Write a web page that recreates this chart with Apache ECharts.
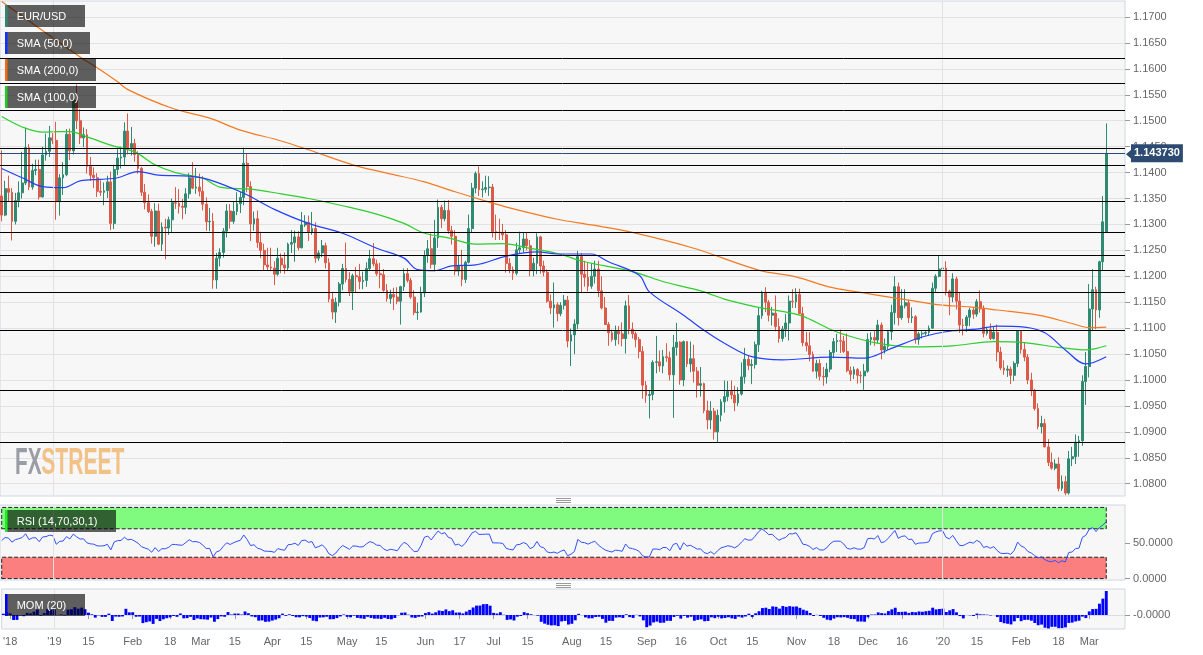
<!DOCTYPE html>
<html><head><meta charset="utf-8">
<script src="https://cdn.jsdelivr.net/npm/echarts@6/dist/echarts.min.js"></script>
<style>html,body{margin:0;padding:0;background:#fff}#c{width:1203px;height:655px}</style>
</head><body><div id="c"></div>
<script>
// ---------------- data ----------------
const firstDay = '2018-12-11';
const lastCategoryDay = '2020-03-16';   // a few empty weekdays after the last candle
const lastPrice = 1.14373;

// closes before the visible window (indicator warm-up)
const priorCloses = [1.1224,1.1290,1.1312,1.1328,1.1417,1.1454,1.1370,1.1407,1.1402,1.1337,1.1331,1.1288,1.1368,1.1393,1.1315,1.1352,1.1343,1.1342,1.1377,1.1406,1.1355];

// daily candles: [open, high, low, close]
const ohlc = [
[1.1355,1.1443,1.1306,1.1318],[1.1318,1.1384,1.1316,1.1369],[1.1369,1.1394,1.1345,1.1362],[1.1362,1.1370,1.1269,1.1306],[1.1306,1.1361,1.1300,1.1346],
[1.1346,1.1383,1.1333,1.1361],[1.1361,1.1440,1.1350,1.1380],[1.1380,1.1486,1.1376,1.1448],[1.1448,1.1455,1.1366,1.1372],[1.1372,1.1417,1.1367,1.1404],
[1.1404,1.1425,1.1395,1.1406],[1.1406,1.1425,1.1348,1.1353],[1.1353,1.1450,1.1352,1.1434],[1.1434,1.1475,1.1423,1.1441],[1.1441,1.1490,1.1430,1.1467],
[1.1467,1.1476,1.1455,1.1462],[1.1462,1.1498,1.1309,1.1344],[1.1344,1.1397,1.1317,1.1390],[1.1390,1.1420,1.1357,1.1396],[1.1396,1.1484,1.1393,1.1474],
[1.1474,1.1485,1.1424,1.1442],[1.1442,1.1542,1.1435,1.1540],[1.1540,1.1570,1.1484,1.1500],[1.1500,1.1522,1.1455,1.1467],[1.1467,1.1487,1.1449,1.1473],
[1.1473,1.1484,1.1398,1.1412],[1.1412,1.1430,1.1384,1.1395],[1.1395,1.1410,1.1370,1.1390],[1.1390,1.1399,1.1353,1.1364],[1.1364,1.1385,1.1355,1.1362],
[1.1362,1.1381,1.1337,1.1365],[1.1365,1.1394,1.1351,1.1382],[1.1382,1.1402,1.1289,1.1302],[1.1302,1.1415,1.1291,1.1406],[1.1406,1.1445,1.1395,1.1428],
[1.1428,1.1450,1.1408,1.1430],[1.1430,1.1497,1.1414,1.1480],[1.1480,1.1514,1.1435,1.1448],[1.1448,1.1488,1.1433,1.1456],[1.1456,1.1465,1.1421,1.1435],
[1.1435,1.1441,1.1398,1.1408],[1.1408,1.1411,1.1355,1.1362],[1.1362,1.1378,1.1329,1.1342],[1.1342,1.1358,1.1322,1.1325],[1.1325,1.1330,1.1263,1.1277],
[1.1277,1.1341,1.1257,1.1326],[1.1326,1.1340,1.1260,1.1262],[1.1262,1.1304,1.1249,1.1295],[1.1295,1.1311,1.1233,1.1293],[1.1293,1.1315,1.1280,1.1309],
[1.1309,1.1350,1.1285,1.1342],[1.1342,1.1372,1.1330,1.1341],[1.1341,1.1368,1.1321,1.1335],[1.1335,1.1349,1.1310,1.1333],[1.1333,1.1370,1.1320,1.1359],
[1.1359,1.1399,1.1350,1.1390],[1.1390,1.1420,1.1368,1.1370],[1.1370,1.1409,1.1359,1.1372],[1.1372,1.1398,1.1354,1.1364],[1.1364,1.1393,1.1327,1.1339],
[1.1339,1.1352,1.1288,1.1305],[1.1305,1.1332,1.1287,1.1306],[1.1306,1.1322,1.1176,1.1193],[1.1193,1.1245,1.1176,1.1235],[1.1235,1.1254,1.1219,1.1246],
[1.1246,1.1293,1.1236,1.1287],[1.1287,1.1339,1.1275,1.1326],[1.1326,1.1339,1.1292,1.1306],[1.1306,1.1345,1.1301,1.1325],[1.1325,1.1362,1.1318,1.1340],
[1.1340,1.1363,1.1322,1.1352],[1.1352,1.1448,1.1337,1.1418],[1.1418,1.1437,1.1362,1.1373],[1.1373,1.1383,1.1268,1.1301],[1.1301,1.1325,1.1288,1.1311],
[1.1311,1.1327,1.1255,1.1265],[1.1265,1.1286,1.1235,1.1250],[1.1250,1.1263,1.1211,1.1222],[1.1222,1.1255,1.1212,1.1218],[1.1218,1.1255,1.1210,1.1216],
[1.1216,1.1229,1.1183,1.1204],[1.1204,1.1255,1.1201,1.1235],[1.1235,1.1244,1.1206,1.1222],[1.1222,1.1246,1.1205,1.1216],[1.1216,1.1265,1.1210,1.1262],
[1.1262,1.1289,1.1245,1.1265],[1.1265,1.1288,1.1228,1.1276],[1.1276,1.1287,1.1250,1.1255],[1.1255,1.1324,1.1254,1.1299],[1.1299,1.1318,1.1295,1.1304],
[1.1304,1.1317,1.1268,1.1285],[1.1285,1.1324,1.1280,1.1292],[1.1292,1.1304,1.1226,1.1235],[1.1235,1.1250,1.1230,1.1245],[1.1245,1.1270,1.1237,1.1259],
[1.1259,1.1265,1.1215,1.1226],[1.1226,1.1235,1.1150,1.1156],[1.1156,1.1170,1.1117,1.1131],[1.1131,1.1159,1.1110,1.1150],[1.1150,1.1189,1.1142,1.1185],
[1.1185,1.1224,1.1173,1.1215],[1.1215,1.1265,1.1188,1.1194],[1.1194,1.1208,1.1162,1.1171],[1.1171,1.1205,1.1135,1.1201],[1.1201,1.1218,1.1168,1.1199],
[1.1199,1.1224,1.1175,1.1190],[1.1190,1.1209,1.1175,1.1192],[1.1192,1.1227,1.1180,1.1215],[1.1215,1.1251,1.1212,1.1234],[1.1234,1.1264,1.1219,1.1224],
[1.1224,1.1232,1.1201,1.1205],[1.1205,1.1226,1.1177,1.1203],[1.1203,1.1214,1.1170,1.1173],[1.1173,1.1185,1.1151,1.1157],[1.1157,1.1174,1.1147,1.1165],
[1.1165,1.1178,1.1135,1.1160],[1.1160,1.1179,1.1146,1.1152],[1.1152,1.1182,1.1107,1.1180],[1.1180,1.1215,1.1172,1.1205],[1.1205,1.1216,1.1188,1.1192],
[1.1192,1.1197,1.1156,1.1160],[1.1160,1.1173,1.1125,1.1130],[1.1130,1.1149,1.1116,1.1131],[1.1131,1.1180,1.1130,1.1168],[1.1168,1.1250,1.1160,1.1240],
[1.1240,1.1270,1.1226,1.1253],[1.1253,1.1283,1.1215,1.1223],[1.1223,1.1309,1.1210,1.1274],[1.1274,1.1348,1.1255,1.1333],[1.1333,1.1338,1.1293,1.1311],
[1.1311,1.1346,1.1306,1.1327],[1.1327,1.1347,1.1282,1.1288],[1.1288,1.1297,1.1261,1.1277],[1.1277,1.1289,1.1202,1.1210],[1.1210,1.1240,1.1201,1.1220],
[1.1220,1.1251,1.1181,1.1194],[1.1194,1.1230,1.1187,1.1227],[1.1227,1.1319,1.1225,1.1292],[1.1292,1.1380,1.1284,1.1370],[1.1370,1.1402,1.1360,1.1398],
[1.1398,1.1412,1.1355,1.1367],[1.1367,1.1383,1.1352,1.1368],[1.1368,1.1394,1.1361,1.1371],[1.1371,1.1393,1.1355,1.1372],[1.1372,1.1378,1.1275,1.1286],
[1.1286,1.1319,1.1270,1.1285],[1.1285,1.1311,1.1270,1.1284],[1.1284,1.1301,1.1270,1.1280],[1.1280,1.1289,1.1207,1.1225],[1.1225,1.1235,1.1206,1.1213],
[1.1213,1.1219,1.1193,1.1206],[1.1206,1.1265,1.1202,1.1251],[1.1251,1.1286,1.1245,1.1255],[1.1255,1.1284,1.1246,1.1272],[1.1272,1.1285,1.1250,1.1259],
[1.1259,1.1270,1.1200,1.1211],[1.1211,1.1236,1.1200,1.1225],[1.1225,1.1283,1.1204,1.1276],[1.1276,1.1278,1.1205,1.1220],[1.1220,1.1230,1.1200,1.1208],
[1.1208,1.1213,1.1149,1.1152],[1.1152,1.1165,1.1127,1.1139],[1.1139,1.1188,1.1101,1.1145],[1.1145,1.1150,1.1113,1.1128],[1.1128,1.1150,1.1123,1.1144],
[1.1144,1.1164,1.1136,1.1154],[1.1154,1.1162,1.1063,1.1075],[1.1075,1.1099,1.1027,1.1087],[1.1087,1.1117,1.1050,1.1108],[1.1108,1.1249,1.1098,1.1238],
[1.1238,1.1245,1.1169,1.1204],[1.1204,1.1230,1.1180,1.1198],[1.1198,1.1227,1.1171,1.1181],[1.1181,1.1225,1.1176,1.1200],[1.1200,1.1230,1.1186,1.1214],
[1.1214,1.1230,1.1160,1.1172],[1.1172,1.1200,1.1136,1.1139],[1.1139,1.1160,1.1106,1.1107],[1.1107,1.1112,1.1066,1.1091],[1.1091,1.1097,1.1074,1.1078],
[1.1078,1.1105,1.1066,1.1094],[1.1094,1.1104,1.1069,1.1089],[1.1089,1.1111,1.1065,1.1080],[1.1080,1.1153,1.1051,1.1143],[1.1143,1.1164,1.1088,1.1098],
[1.1098,1.1111,1.1080,1.1089],[1.1089,1.1093,1.1063,1.1078],[1.1078,1.1083,1.1042,1.1055],[1.1055,1.1065,1.0964,1.0990],[1.0990,1.0998,1.0956,1.0970],
[1.0970,1.0980,1.0926,1.0972],[1.0972,1.1038,1.0961,1.1034],[1.1034,1.1085,1.1013,1.1035],[1.1035,1.1057,1.1016,1.1027],[1.1027,1.1058,1.1013,1.1045],
[1.1045,1.1071,1.1035,1.1043],[1.1043,1.1055,1.0999,1.1010],[1.1010,1.1087,1.0927,1.1063],[1.1063,1.1110,1.1047,1.1073],[1.1073,1.1075,1.0991,1.1000],
[1.1000,1.1076,1.0988,1.1074],[1.1074,1.1075,1.1025,1.1031],[1.1031,1.1074,1.1015,1.1041],[1.1041,1.1068,1.0995,1.1017],[1.1017,1.1025,1.0966,1.0990],
[1.0990,1.1025,1.0968,1.0993],[1.0993,1.0995,1.0936,1.0941],[1.0941,1.0960,1.0905,1.0923],[1.0923,1.0959,1.0905,1.0940],[1.0940,1.0946,1.0885,1.0900],
[1.0900,1.0943,1.0879,1.0932],[1.0932,1.0963,1.0920,1.0958],[1.0958,1.0999,1.0937,1.0968],[1.0968,1.0998,1.0959,1.0978],[1.0978,1.0999,1.0963,1.0971],
[1.0971,1.0989,1.0940,1.0956],[1.0956,1.0986,1.0950,1.0973],[1.0973,1.1034,1.0970,1.1006],[1.1006,1.1062,1.0993,1.1040],[1.1040,1.1047,1.1019,1.1028],
[1.1028,1.1040,1.0992,1.1030],[1.1030,1.1074,1.1022,1.1068],[1.1068,1.1140,1.1054,1.1124],[1.1124,1.1172,1.1118,1.1169],[1.1169,1.1179,1.1131,1.1150],
[1.1150,1.1154,1.1113,1.1125],[1.1125,1.1141,1.1105,1.1129],[1.1129,1.1163,1.1094,1.1103],[1.1103,1.1119,1.1072,1.1080],[1.1080,1.1104,1.1074,1.1098],
[1.1098,1.1127,1.1083,1.1110],[1.1110,1.1163,1.1076,1.1152],[1.1152,1.1175,1.1139,1.1151],[1.1151,1.1177,1.1139,1.1165],[1.1165,1.1176,1.1127,1.1128],
[1.1128,1.1141,1.1065,1.1072],[1.1072,1.1093,1.1055,1.1066],[1.1066,1.1092,1.1036,1.1049],[1.1049,1.1055,1.1016,1.1017],[1.1017,1.1039,1.1003,1.1032],
[1.1032,1.1040,1.0999,1.1007],[1.1007,1.1025,1.0989,1.1006],[1.1006,1.1033,1.0993,1.1021],[1.1021,1.1058,1.1015,1.1053],[1.1053,1.1081,1.1042,1.1074],
[1.1074,1.1089,1.1054,1.1076],[1.1076,1.1097,1.1052,1.1075],[1.1075,1.1085,1.1052,1.1055],[1.1055,1.1090,1.1015,1.1018],[1.1018,1.1026,1.0998,1.1011],
[1.1011,1.1026,1.1002,1.1020],[1.1020,1.1023,1.0993,1.1009],[1.1009,1.1017,1.0994,1.1008],[1.1008,1.1031,1.0981,1.1017],[1.1017,1.1090,1.1014,1.1078],
[1.1078,1.1092,1.1067,1.1082],[1.1082,1.1094,1.1066,1.1077],[1.1077,1.1116,1.1071,1.1106],[1.1106,1.1111,1.1040,1.1058],[1.1058,1.1080,1.1051,1.1065],
[1.1065,1.1096,1.1058,1.1093],[1.1093,1.1145,1.1077,1.1130],[1.1130,1.1200,1.1107,1.1180],[1.1180,1.1188,1.1105,1.1120],[1.1120,1.1175,1.1116,1.1143],
[1.1143,1.1175,1.1138,1.1149],[1.1149,1.1155,1.1110,1.1120],[1.1120,1.1140,1.1110,1.1122],[1.1122,1.1125,1.1070,1.1078],[1.1078,1.1093,1.1068,1.1089],
[1.1089,1.1094,1.1080,1.1090],[1.1090,1.1094,1.1086,1.1092],[1.1092,1.1105,1.1085,1.1100],[1.1100,1.1188,1.1099,1.1177],[1.1177,1.1204,1.1170,1.1200],
[1.1200,1.1239,1.1198,1.1214],[1.1214,1.1222,1.1208,1.1216],[1.1216,1.1229,1.1163,1.1171],[1.1171,1.1174,1.1125,1.1160],[1.1160,1.1206,1.1150,1.1195],
[1.1195,1.1199,1.1136,1.1152],[1.1152,1.1168,1.1091,1.1106],[1.1106,1.1118,1.1086,1.1105],[1.1105,1.1125,1.1093,1.1121],[1.1121,1.1139,1.1104,1.1135],
[1.1135,1.1139,1.1118,1.1127],[1.1127,1.1156,1.1122,1.1151],[1.1151,1.1173,1.1130,1.1137],[1.1137,1.1144,1.1082,1.1090],[1.1090,1.1101,1.1086,1.1097],
[1.1097,1.1109,1.1077,1.1080],[1.1080,1.1102,1.1078,1.1092],[1.1092,1.1107,1.1036,1.1054],[1.1054,1.1064,1.1019,1.1023],[1.1023,1.1038,1.1010,1.1019],
[1.1019,1.1028,1.1006,1.1021],[1.1021,1.1026,1.0992,1.1009],[1.1009,1.1036,1.0998,1.1032],[1.1032,1.1096,1.1025,1.1094],[1.1094,1.1096,1.1051,1.1059],
[1.1059,1.1073,1.1036,1.1044],[1.1044,1.1050,1.0992,1.1000],[1.1000,1.1014,1.0969,1.0980],[1.0980,1.0983,1.0941,1.0945],[1.0945,1.0955,1.0905,1.0910],
[1.0910,1.0931,1.0897,1.0916],[1.0916,1.0925,1.0870,1.0871],[1.0871,1.0886,1.0834,1.0841],[1.0841,1.0860,1.0827,1.0830],[1.0830,1.0847,1.0826,1.0838],
[1.0838,1.0851,1.0785,1.0791],[1.0791,1.0816,1.0786,1.0804],[1.0804,1.0815,1.0778,1.0782],[1.0782,1.0863,1.0779,1.0848],[1.0848,1.0871,1.0834,1.0852],
[1.0852,1.0895,1.0838,1.0880],[1.0880,1.0892,1.0852,1.0883],[1.0883,1.1009,1.0873,1.0997],[1.0997,1.1054,1.0952,1.1026],[1.1026,1.1185,1.1005,1.1137],
[1.1137,1.1214,1.1096,1.1174],[1.1174,1.1180,1.1098,1.1135],[1.1135,1.1230,1.1120,1.1228],[1.1228,1.1355,1.1212,1.1305],[1.1285,1.1495,1.1285,1.1437]
];

// horizontal support / resistance levels
const levels = [1.1620,1.1573,1.1520,1.1447,1.1414,1.1345,1.1285,1.1241,1.1212,1.1170,1.1095,1.0981,1.0879];

// moving averages: candle index -> value
const sma50Idx = [0,6,12,18,23,29,34,40,46,55,61,71,80,90,100,110,118,122,127,132,139,148,157,163,173,178,187,190,200,206,212,220,229,243,253,261,270,279,286,292,300,306,312,318,324];
const sma50Val = [1.1408,1.1390,1.1373,1.1371,1.1384,1.1387,1.1390,1.1402,1.1395,1.1393,1.1386,1.1360,1.1329,1.1302,1.1283,1.1254,1.1235,1.1213,1.1211,1.1220,1.1222,1.1239,1.1247,1.1243,1.1243,1.1228,1.1202,1.1170,1.1125,1.1096,1.1071,1.1045,1.1039,1.1044,1.1042,1.1061,1.1083,1.1095,1.1098,1.1104,1.1102,1.1091,1.1058,1.1031,1.1045];
const sma100Idx = [0,6,12,17,20,25,32,39,45,51,59,64,73,82,90,100,110,118,124,131,139,147,155,163,171,185,195,205,213,222,234,243,247,256,266,279,291,300,310,318,324];
const sma100Val = [1.1508,1.1488,1.1478,1.1479,1.1479,1.1469,1.1453,1.1440,1.1415,1.1400,1.1389,1.1372,1.1368,1.1359,1.1350,1.1336,1.1320,1.1302,1.1283,1.1274,1.1262,1.1263,1.1254,1.1244,1.1228,1.1209,1.1188,1.1172,1.1154,1.1140,1.1125,1.1098,1.1088,1.1072,1.1064,1.1066,1.1074,1.1072,1.1063,1.1058,1.1066];
const sma200Idx = [0,23,28,34,37,50,61,70,82,90,103,113,124,133,143,149,163,173,184,203,222,233,243,251,266,275,284,292,304,314,319,324];
const sma200Val = [1.1730,1.1623,1.1602,1.1575,1.1560,1.1524,1.1505,1.1482,1.1461,1.1444,1.1415,1.1399,1.1382,1.1363,1.1343,1.1332,1.1310,1.1299,1.1286,1.1254,1.1212,1.1199,1.1179,1.1170,1.1154,1.1145,1.1141,1.1135,1.1125,1.1109,1.1101,1.1102];

// axis ticks
const yTicks = [1.08,1.085,1.09,1.095,1.10,1.105,1.11,1.115,1.12,1.125,1.13,1.135,1.14,1.145,1.15,1.155,1.16,1.165,1.17];
const rsiTicks = [0,50];
const momTicks = [0];
const xTickDates = ['2018-12-13','2019-01-01','2019-01-15','2019-02-01','2019-02-18','2019-03-01','2019-03-15','2019-04-01','2019-04-15','2019-05-01','2019-05-15','2019-06-03','2019-06-17','2019-07-01','2019-07-15','2019-08-01','2019-08-15','2019-09-02','2019-09-16','2019-10-01','2019-10-15','2019-11-01','2019-11-18','2019-12-02','2019-12-16','2020-01-01','2020-01-15','2020-02-03','2020-02-18','2020-03-02'];
const xTickTexts = ["'18","'19",'15','Feb','18','Mar','15','Apr','15','May','15','Jun','17','Jul','15','Aug','15','Sep','16','Oct','15','Nov','18','Dec','16',"'20",'15','Feb','18','Mar'];
const yearLines = ['2019-01-01','2020-01-01'];

// ---------------- build ----------------
function weekdays(a, b) {
  const out = []; let d = new Date(a + 'T00:00:00Z'); const e = new Date(b + 'T00:00:00Z');
  while (d <= e) { const w = d.getUTCDay(); if (w !== 0 && w !== 6) out.push(d.toISOString().slice(0, 10)); d = new Date(d.getTime() + 86400000); }
  return out;
}
const cats = weekdays(firstDay, lastCategoryDay);
const labelMap = {}; xTickDates.forEach((d, i) => labelMap[d] = xTickTexts[i]);

const closes = priorCloses.concat(ohlc.map(r => r[3]));
function rsiCalc(cl, n) {
  const out = new Array(cl.length).fill(null); let g = 0, l = 0;
  for (let i = 1; i <= n; i++) { const d = cl[i] - cl[i - 1]; if (d > 0) g += d; else l -= d; }
  g /= n; l /= n; out[n] = 100 - 100 / (1 + g / l);
  for (let i = n + 1; i < cl.length; i++) { const d = cl[i] - cl[i - 1]; g = (g * (n - 1) + Math.max(d, 0)) / n; l = (l * (n - 1) + Math.max(-d, 0)) / n; out[i] = l === 0 ? 100 : 100 - 100 / (1 + g / l); }
  return out;
}
const P = priorCloses.length;
const rsiVals = rsiCalc(closes, 14).slice(P);
const momVals = ohlc.map((r, i) => +(closes[P + i] - closes[P + i - 20]).toFixed(5));
const candleData = ohlc.map(r => [r[0], r[3], r[2], r[1]]);
const pairs = (ix, v) => ix.map((x, k) => [x, v[k]]);

const FONT = '"Liberation Sans", Arial, Helvetica, sans-serif';
const isTick = (idx, val) => Object.prototype.hasOwnProperty.call(labelMap, val);
const gridCommon = { left: -1.6, right: 78, show: true, backgroundColor: '#f7f7f7', borderColor: '#cfd6e4', borderWidth: 1 };

function tag(x, y, w, h, bar, text) {
  return [
    { type: 'rect', shape: { x: x, y: y, width: w, height: h }, style: { fill: 'rgba(0,0,0,0.62)' }, z: 100 },
    { type: 'rect', shape: { x: x, y: y, width: 2.5, height: h }, style: { fill: bar }, z: 101 },
    { type: 'text', x: x + 11.7, y: y + h / 2 + 0.5, style: { text: text, fill: '#fff', font: '11px ' + FONT, verticalAlign: 'middle' }, z: 101 }
  ];
}
function handle(cy) {
  return [
    { type: 'line', shape: { x1: 556, y1: cy - 1.5, x2: 571, y2: cy - 1.5 }, style: { stroke: '#9a9a9a', lineWidth: 1 }, z: 100 },
    { type: 'line', shape: { x1: 556, y1: cy + 0.5, x2: 571, y2: cy + 0.5 }, style: { stroke: '#9a9a9a', lineWidth: 1 }, z: 100 },
    { type: 'line', shape: { x1: 556, y1: cy + 2.5, x2: 571, y2: cy + 2.5 }, style: { stroke: '#9a9a9a', lineWidth: 1 }, z: 100 }
  ];
}

const chart = echarts.init(document.getElementById('c'), null, { renderer: 'canvas' });
chart.setOption({
  animation: false,
  backgroundColor: '#ffffff',
  grid: [
    Object.assign({ top: 1, height: 495 }, gridCommon),
    Object.assign({ top: 505, height: 75 }, gridCommon),
    Object.assign({ top: 589, height: 40 }, gridCommon)
  ],
  xAxis: [
    { type: 'category', gridIndex: 0, data: cats, show: false },
    { type: 'category', gridIndex: 1, data: cats, show: false },
    { type: 'category', gridIndex: 2, data: cats,
      axisLine: { show: false },
      axisTick: { show: true, alignWithLabel: true, interval: isTick, length: 4, lineStyle: { color: '#9a9a9a' } },
      axisLabel: { interval: isTick, formatter: v => labelMap[v] || '', color: '#666', fontSize: 11, fontFamily: FONT, margin: 7 },
      splitLine: { show: false } }
  ],
  yAxis: [
    { type: 'value', gridIndex: 0, position: 'right', min: 1.07763, max: 1.17309,
      axisLine: { show: false },
      axisTick: { show: true, length: 5, lineStyle: { color: '#9a9a9a' }, customValues: yTicks },
      axisLabel: { customValues: yTicks, formatter: v => v.toFixed(4), color: '#666', fontSize: 11, fontFamily: FONT, margin: 8 },
      splitLine: { show: true, lineStyle: { color: '#e2e2e2', width: 1 } } },
    { type: 'value', gridIndex: 1, position: 'right', min: -2, max: 103.4,
      axisLine: { show: false },
      axisTick: { show: true, length: 5, lineStyle: { color: '#9a9a9a' }, customValues: rsiTicks },
      axisLabel: { customValues: rsiTicks, formatter: v => v.toFixed(4), color: '#666', fontSize: 11, fontFamily: FONT, margin: 8 },
      splitLine: { show: false } },
    { type: 'value', gridIndex: 2, position: 'right', min: -0.0308, max: 0.0571,
      axisLine: { show: false },
      axisTick: { show: true, length: 5, lineStyle: { color: '#9a9a9a' }, customValues: momTicks },
      axisLabel: { customValues: momTicks, formatter: () => '-0.0000', color: '#666', fontSize: 11, fontFamily: FONT, margin: 8 },
      splitLine: { show: true, lineStyle: { color: '#dcdcdc', width: 1 } } }
  ],
  series: [
    { name: 'years', type: 'line', xAxisIndex: 0, yAxisIndex: 0, data: [], silent: true,
      markLine: { silent: true, symbol: ['none', 'none'], label: { show: false },
        lineStyle: { color: '#e2e2e2', type: 'solid', width: 1 },
        data: yearLines.map(d => ({ xAxis: d })) } },
    { name: 'EUR/USD', type: 'candlestick', xAxisIndex: 0, yAxisIndex: 0, data: candleData, barWidth: '68%',
      itemStyle: { color: '#2f8a72', color0: '#dc5a48', borderColor: '#2f8a72', borderColor0: '#dc5a48', borderWidth: 1 },
      markLine: { silent: true, symbol: ['none', 'none'], animation: false, precision: 6,
        data: levels.map(v => ({ yAxis: v, lineStyle: { color: '#000', width: 1, type: 'solid' }, label: { show: false } }))
          .concat([{ yAxis: lastPrice, lineStyle: { color: '#2c4a72', width: 1, type: 'solid' },
            label: { show: true, position: 'end', distance: 6, formatter: () => lastPrice.toFixed(6),
              backgroundColor: '#2c4a72', color: '#fff', fontWeight: 'bold', fontSize: 11, fontFamily: FONT, padding: [4, 3, 3, 3] } }]) } },
    { name: 'SMA200', type: 'line', xAxisIndex: 0, yAxisIndex: 0, data: pairs(sma200Idx, sma200Val), smooth: 0.35, showSymbol: false, z: 3,
      lineStyle: { color: '#f47a22', width: 1.2 } },
    { name: 'SMA100', type: 'line', xAxisIndex: 0, yAxisIndex: 0, data: pairs(sma100Idx, sma100Val), smooth: 0.35, showSymbol: false, z: 3,
      lineStyle: { color: '#2ccf2c', width: 1.2 } },
    { name: 'SMA50', type: 'line', xAxisIndex: 0, yAxisIndex: 0, data: pairs(sma50Idx, sma50Val), smooth: 0.35, showSymbol: false, z: 3,
      lineStyle: { color: '#2340ff', width: 1.2 } },
    { name: 'RSI', type: 'line', xAxisIndex: 1, yAxisIndex: 1, data: rsiVals, showSymbol: false,
      lineStyle: { color: '#2f50ff', width: 1 },
      markArea: { silent: true,
        data: [
          [{ xAxis: cats[0], yAxis: 70, itemStyle: { color: '#80fb80', borderColor: '#222', borderWidth: 1, borderType: 'dashed' } }, { xAxis: cats[ohlc.length - 1], yAxis: 100 }],
          [{ xAxis: cats[0], yAxis: 0, itemStyle: { color: '#fb7f7f', borderColor: '#222', borderWidth: 1, borderType: 'dashed' } }, { xAxis: cats[ohlc.length - 1], yAxis: 30 }]
        ] },
      markLine: { silent: true, symbol: ['none', 'none'], label: { show: false },
        lineStyle: { color: '#e2e2e2', type: 'solid', width: 1 }, data: yearLines.map(d => ({ xAxis: d })) } },
    { name: 'MOM', type: 'bar', xAxisIndex: 2, yAxisIndex: 2, data: momVals, barWidth: '85%',
      itemStyle: { color: '#0000ff' },
      markLine: { silent: true, symbol: ['none', 'none'], label: { show: false },
        lineStyle: { color: '#e2e2e2', type: 'solid', width: 1 }, data: yearLines.map(d => ({ xAxis: d })) } }
  ],
  graphic: [].concat(
    tag(5, 5, 80, 22, '#2f8a72', 'EUR/USD'),
    tag(5, 32, 85, 22, '#1030ff', 'SMA (50,0)'),
    tag(5, 59, 91, 22, '#f26a10', 'SMA (200,0)'),
    tag(5, 86, 91, 22, '#20cc20', 'SMA (100,0)'),
    tag(5, 510, 111, 22, '#20ee20', 'RSI (14,70,30,1)'),
    tag(5, 594, 80, 22, '#0000ff', 'MOM (20)'),
    handle(500), handle(585),
    [
      { type: 'text', x: 15, y: 464, scaleX: 0.56, style: { text: 'FX', fill: '#9a9da6', font: 'bold 37px ' + FONT, verticalAlign: 'middle' }, z: 50 },
      { type: 'text', x: 41.3, y: 464, scaleX: 0.57, style: { text: 'STREET', fill: '#f2c186', font: 'bold 37px ' + FONT, verticalAlign: 'middle' }, z: 50 },
      { type: 'polygon', shape: { points: [[1126, 154.3], [1131.5, 149.5], [1131.5, 159.1]] }, style: { fill: '#2c4a72' }, z: 100 }
    ]
  )
});
</script>
</body></html>
